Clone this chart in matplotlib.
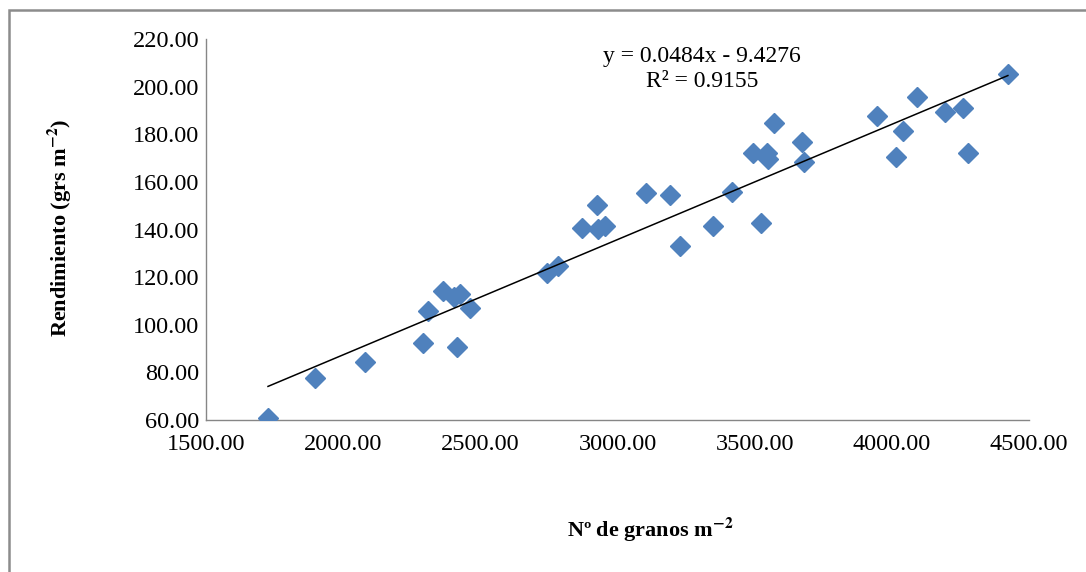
import matplotlib
matplotlib.use('Agg')
import matplotlib.pyplot as plt
import numpy as np
from matplotlib.patches import Rectangle

plt.rcParams['font.family'] = 'Liberation Serif'
plt.rcParams['mathtext.fontset'] = 'stix'

# granos por m2 y rendimiento
granos = [1726, 1897, 2080, 2290, 2310, 2364, 2404, 2426, 2416, 2462,
          2742, 2784, 2870, 2924, 2930, 2955, 3104, 3192, 3228, 3348,
          3418, 3495, 3522, 3544, 3550, 3571, 3672, 3680, 3947, 4015,
          4040, 4093, 4194, 4261, 4279, 4423]
rendimiento = [60.8, 77.6, 84.4, 92.2, 105.9, 114.2, 111.7, 112.9, 90.5, 106.9,
               121.6, 124.7, 140.5, 150.3, 140.1, 141.5, 155.3, 154.5, 133.1, 141.5,
               155.8, 172.0, 142.6, 172.3, 169.5, 184.9, 176.6, 168.5, 187.7, 170.6,
               181.5, 195.5, 189.2, 190.9, 172.3, 205.2]

pendiente = 0.0484
intercepto = -9.4276
r2 = 0.9155

xticks = [1500, 2000, 2500, 3000, 3500, 4000, 4500]
yticks = [60, 80, 100, 120, 140, 160, 180, 200, 220]

fig = plt.figure(figsize=(10.86, 5.72), dpi=100)
ax = fig.add_axes([206 / 1086, 1 - 420 / 572, (1029 - 206) / 1086, (420 - 39) / 572])

x = np.array(granos)
y = np.array(rendimiento)
ax.plot(x, y, linestyle='none', marker='D', markersize=10.5,
        color='#4F81BD', markeredgecolor='#4F81BD', zorder=3)

xl = np.array([x.min(), x.max()])
ax.plot(xl, pendiente * xl + intercepto, color='black', linewidth=1.1, zorder=4)

ax.set_xlim(1500, 4500)
ax.set_ylim(60, 220)
ax.set_xticks(xticks)
ax.set_yticks(yticks)
ax.set_xticklabels(['%.2f' % v for v in xticks])
ax.set_yticklabels(['%.2f' % v for v in yticks])
ax.tick_params(axis='both', length=0, labelsize=17.5)
ax.tick_params(axis='x', pad=10)
ax.tick_params(axis='y', pad=5)

for s in ['top', 'right']:
    ax.spines[s].set_visible(False)
for s in ['left', 'bottom']:
    ax.spines[s].set_color('#868686')
    ax.spines[s].set_linewidth(1.0)

ax.text(702 / 1086, 1 - 69 / 572, 'y = %.4fx - %.4f\nR² = %.4f' % (pendiente, -intercepto, r2),
        transform=fig.transFigure, ha='center', va='center', fontsize=17,
        linespacing=1.2)

fig.text(60 / 1086, 1 - 228 / 572, r'Rendimiento (grs m$^{\mathbf{-2}}$)',
         rotation=90, ha='center', va='center', fontsize=16, fontweight='bold')
fig.text(650 / 1086, 1 - 530 / 572, r'Nº de granos m$^{\mathbf{-2}}$',
         ha='center', va='center', fontsize=16, fontweight='bold')

fig.patches.append(Rectangle((9 / 1086, -0.1), 1.2, 1 - 10 / 572 + 0.1,
                             transform=fig.transFigure, fill=False,
                             edgecolor='#8C8C8C', linewidth=1.8))

fig.savefig('out.png', dpi=100)
